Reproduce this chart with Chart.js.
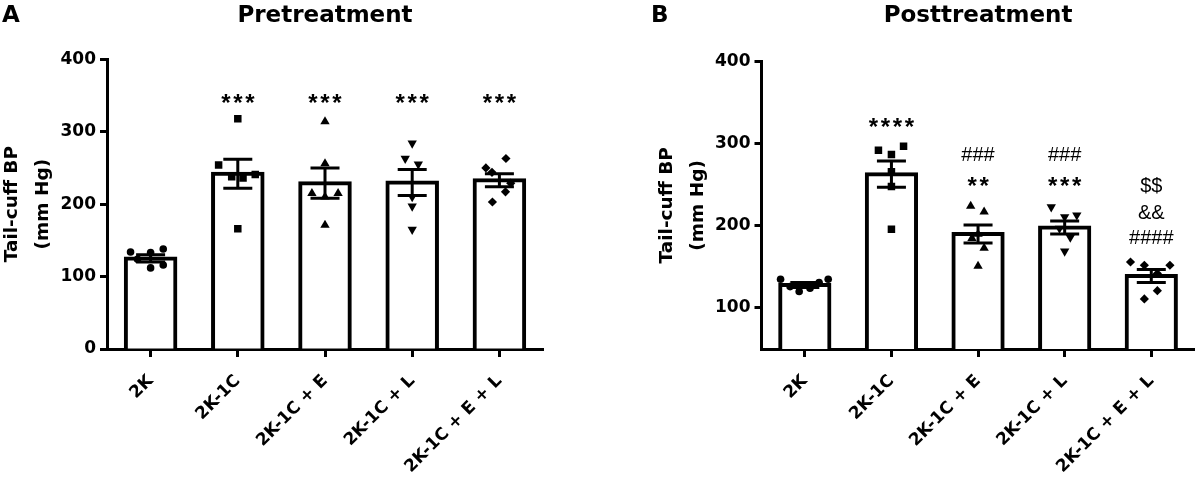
<!DOCTYPE html>
<html>
<head>
<meta charset="utf-8">
<script src="https://cdn.jsdelivr.net/npm/chart.js@4.4.1/dist/chart.umd.min.js"></script>
<style>
html, body { margin: 0; padding: 0; background: #fff; width: 1200px; height: 479px; overflow: hidden; }
.panel { position: absolute; top: 0; width: 600px; height: 479px; }
#pa { left: 0; }
#pb { left: 600px; }
</style>
</head>
<body>
<div class="panel" id="pa"><canvas id="ca"></canvas></div>
<div class="panel" id="pb"><canvas id="cb"></canvas></div>
<script>
// ---------- data ----------
const groups = ['2K', '2K-1C', '2K-1C + E', '2K-1C + L', '2K-1C + E + L'];

// Panel A: Pretreatment (mean ± SEM and individual animals, mm Hg)
const preMean = [125, 242, 229, 230, 233];
const preSem  = [5, 20, 21, 18, 9];
const pre2K     = [134, 124, 133, 112, 138, 116];
const pre2K1C   = [318, 254, 238, 236, 241, 166];
const pre2K1CE  = [314, 256, 215, 210, 215, 171];
const pre2K1CL  = [284, 263, 255, 210, 197, 165];
const pre2K1CEL = [263, 250, 244, 229, 217, 203];
// horizontal scatter of the dots within each group (category units)
const preSpread2K     = [-0.23, -0.15, 0, 0, 0.145, 0.145];
const preSpread2K1C   = [0, -0.22, -0.07, 0.06, 0.2, 0];
const preSpread2K1CE  = [0, 0, -0.15, 0, 0.15, 0];
const preSpread2K1CL  = [0, -0.08, 0.07, 0, 0, 0];
const preSpread2K1CEL = [0.075, -0.155, -0.085, 0.13, 0.07, -0.08];
const preTicks = [0, 100, 200, 300, 400];
const preMarks   = [[], ['***'], ['***'], ['***'], ['***']];
const preMarksAt = [[], [346], [346], [346], [346]];

// Panel B: Posttreatment
const postMean = [128, 263, 190, 198, 139];
const postSem  = [3, 16, 11, 8, 8];
const post2K     = [135, 126, 120, 124, 131, 135];
const post2K1C   = [292, 297, 287, 266, 248, 196];
const post2K1CE  = [224, 217, 190, 185, 173, 151];
const post2K1CL  = [223, 211, 213, 197, 186, 169];
const post2K1CEL = [156, 152, 142, 152, 121, 111];
const postSpread2K     = [-0.28, -0.17, -0.065, 0.06, 0.165, 0.27];
const postSpread2K1C   = [-0.15, 0.14, 0, 0, 0, 0];
const postSpread2K1CE  = [-0.085, 0.07, 0, -0.07, 0.07, 0];
const postSpread2K1CL  = [-0.155, 0, 0.14, -0.06, 0.065, 0];
const postSpread2K1CEL = [-0.24, -0.08, 0.07, 0.215, 0.07, -0.08];
const postTicks = [100, 200, 300, 400];
const postMarks   = [[], ['****'], ['###', '**'], ['###', '***'], ['$$', '&&', '####']];
const postMarksAt = [[], [326.5], [287, 253.5], [287, 253.5], [249.5, 217, 186]];

// ---------- styling ----------
const markerStyle    = ['circle', 'rect', 'triangle', 'triangle', 'rectRot'];
const markerRotation = [0, 0, 0, 180, 0];
const markerRadius   = [3.8, 5.3, 5.4, 5.4, 4.6];
const FONT = '"DejaVu Sans", "Liberation Sans", sans-serif';

function inkText(ctx, text, x, yc) {
  const m = ctx.measureText(text);
  ctx.textBaseline = 'alphabetic';
  ctx.fillText(text, x, yc + (m.actualBoundingBoxAscent - m.actualBoundingBoxDescent) / 2);
}

function symbolsText(ctx, text, cx, yc) {
  const chars = Array.from(text);
  const fonts = chars.map(c => c === '*' ? 'bold 24px "Liberation Sans", Arial, sans-serif' : '20px "Liberation Sans", Arial, sans-serif');
  const widths = chars.map((c, i) => { ctx.font = fonts[i]; return c === '*' ? 12 : ctx.measureText(c).width; });
  const total = widths.reduce((a, b) => a + b, 0);
  let x = cx - total / 2;
  ctx.textAlign = 'center';
  chars.forEach((c, i) => { ctx.font = fonts[i]; inkText(ctx, c, x + widths[i] / 2, yc); x += widths[i]; });
}

function overlayPlugin(p) {
  return {
    id: 'overlay',
    afterDatasetsDraw(chart) {
      const ctx = chart.ctx, xs = chart.scales.x, ys = chart.scales.y, ca = chart.chartArea;
      ctx.save();
      ctx.strokeStyle = '#000';
      ctx.lineWidth = 3;
      ctx.lineCap = 'butt';
      p.mean.forEach((m, i) => {
        const x = xs.getPixelForValue(i);
        const yt = ys.getPixelForValue(m + p.sem[i]);
        const yb = ys.getPixelForValue(m - p.sem[i]);
        ctx.beginPath();
        ctx.moveTo(x, yt); ctx.lineTo(x, yb);
        ctx.moveTo(x - 14.5, yt); ctx.lineTo(x + 14.5, yt);
        ctx.moveTo(x - 14.5, yb); ctx.lineTo(x + 14.5, yb);
        ctx.stroke();
      });
      ctx.fillStyle = '#000';
      p.marks.forEach((list, i) => list.forEach((t, k) =>
        symbolsText(ctx, t, xs.getPixelForValue(i), ys.getPixelForValue(p.marksAt[i][k]))));
      ctx.font = 'bold 23px ' + FONT;
      ctx.textAlign = 'center';
      inkText(ctx, p.title, (ca.left + ca.right) / 2, 13.3);
      ctx.textAlign = 'left';
      inkText(ctx, p.letter, p.letterX, 13.3);
      ctx.restore();
    }
  };
}

function makeChart(id, p) {
  const datasets = [{
    type: 'bar', data: p.mean, xAxisID: 'x', yAxisID: 'y', grouped: false,
    backgroundColor: '#ffffff', borderColor: '#000000', borderWidth: 4, inflateAmount: 2,
    barPercentage: 0.568, categoryPercentage: 1, order: 2
  }];
  p.points.forEach((vals, g) => datasets.push({
    type: 'scatter', xAxisID: 'xs', yAxisID: 'y',
    data: vals.map((v, k) => ({ x: g + p.spread[g][k], y: v })),
    pointStyle: markerStyle[g], pointRotation: markerRotation[g], pointRadius: markerRadius[g],
    pointBackgroundColor: '#000', pointBorderColor: '#000', pointBorderWidth: 0,
    showLine: false, order: 1
  }));
  return new Chart(document.getElementById(id), {
    type: 'bar',
    data: { labels: groups, datasets },
    options: {
      responsive: true, maintainAspectRatio: false, animation: false,
      layout: { padding: { left: 0, right: p.padRight, top: p.padTop, bottom: 0 } },
      plugins: { legend: { display: false }, tooltip: { enabled: false }, title: { display: false } },
      scales: {
        x: {
          type: 'category', offset: true,
          grid: { offset: false, display: true, drawOnChartArea: false, drawTicks: true, tickLength: 8, tickWidth: 3, tickColor: '#000' },
          border: { display: true, color: '#000', width: 3 },
          ticks: { autoSkip: false, maxRotation: 45, minRotation: 45, padding: 14, color: '#000',
                   font: { family: FONT, size: 17, weight: 'bold' } },
          afterFit(s) { s.height = 130; }
        },
        xs: { type: 'linear', display: false, min: -0.5, max: 4.5, offset: false },
        y: {
          type: 'linear', min: p.yMin, max: 400,
          afterBuildTicks(s) { s.ticks = p.ticks.map(v => ({ value: v })); },
          grid: { display: true, drawOnChartArea: false, drawTicks: true, tickLength: 7, tickWidth: 3, tickColor: '#000' },
          border: { display: true, color: '#000', width: 3 },
          ticks: { padding: 4, color: '#000', font: { family: FONT, size: 17, weight: 'bold' } },
          title: { display: true, text: ['Tail-cuff BP', '(mm Hg)'], color: '#000',
                   font: { family: FONT, size: 18.5, weight: 'bold', lineHeight: 1.66 },
                   padding: { top: p.titlePad, bottom: 0 } },
          afterFit(s) { s.width = p.yWidth; }
        }
      }
    },
    plugins: [overlayPlugin(p)]
  });
}

makeChart('ca', {
  mean: preMean, sem: preSem,
  points: [pre2K, pre2K1C, pre2K1CE, pre2K1CL, pre2K1CEL],
  spread: [preSpread2K, preSpread2K1C, preSpread2K1CE, preSpread2K1CL, preSpread2K1CEL],
  ticks: preTicks, yMin: 0, marks: preMarks, marksAt: preMarksAt,
  title: 'Pretreatment', letter: 'A', letterX: 2,
  padTop: 59.3, padRight: 57, yWidth: 107, titlePad: -3
});
makeChart('cb', {
  mean: postMean, sem: postSem,
  points: [post2K, post2K1C, post2K1CE, post2K1CL, post2K1CEL],
  spread: [postSpread2K, postSpread2K1C, postSpread2K1CE, postSpread2K1CL, postSpread2K1CEL],
  ticks: postTicks, yMin: 50, marks: postMarks, marksAt: postMarksAt,
  title: 'Posttreatment', letter: 'B', letterX: 51,
  padTop: 61.7, padRight: 3, yWidth: 161.5, titlePad: 51.7
});
</script>
</body>
</html>
